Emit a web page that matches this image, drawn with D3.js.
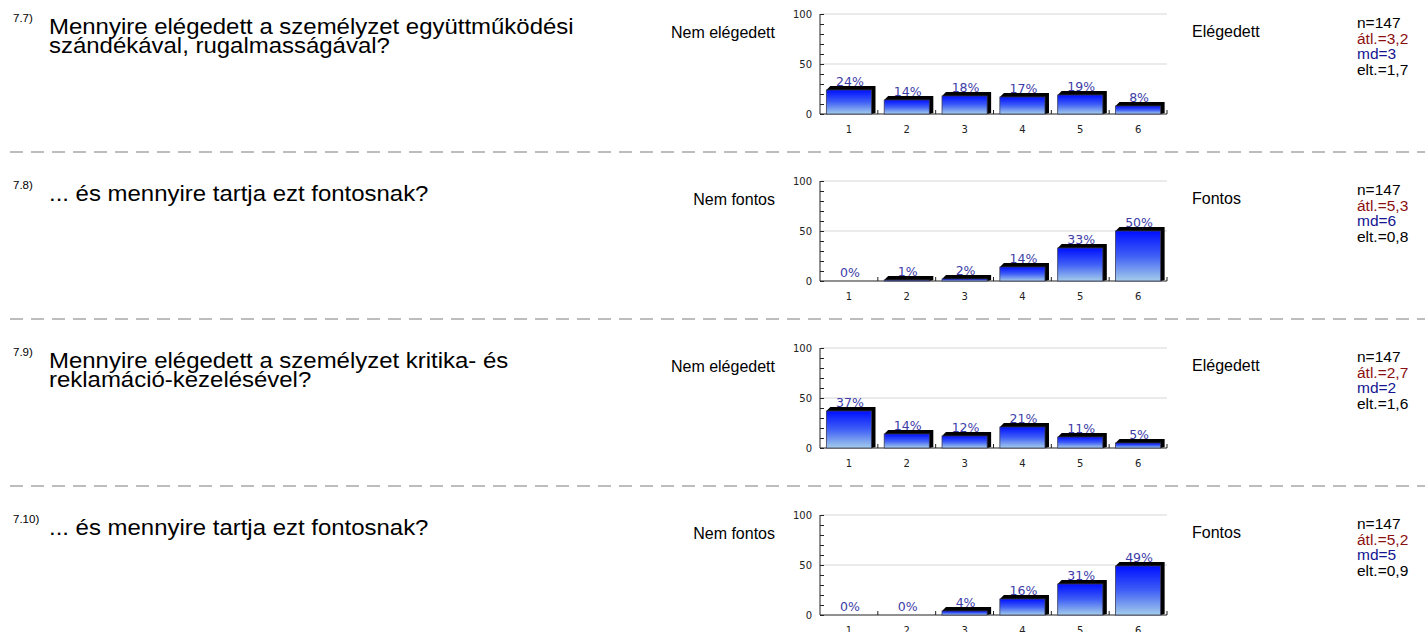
<!DOCTYPE html>
<html><head><meta charset="utf-8">
<script src="https://cdn.jsdelivr.net/npm/d3@7/dist/d3.min.js"></script>
<style>
html,body{margin:0;padding:0;background:#fff;}
svg{display:block;}
</style></head>
<body>
<script>
const categories = ["1","2","3","4","5","6"];
const numbers = ["7.7)","7.8)","7.9)","7.10)"];
const titles = [
  ["Mennyire elégedett a személyzet együttműködési","szándékával, rugalmasságával?"],
  ["... és mennyire tartja ezt fontosnak?"],
  ["Mennyire elégedett a személyzet kritika- és","reklamáció-kezelésével?"],
  ["... és mennyire tartja ezt fontosnak?"]
];
const leftLabels = ["Nem elégedett","Nem fontos","Nem elégedett","Nem fontos"];
const rightLabels = ["Elégedett","Fontos","Elégedett","Fontos"];
const values77 = [24,14,18,17,19,8];
const values78 = [0,1,2,14,33,50];
const values79 = [37,14,12,21,11,5];
const values710 = [0,0,4,16,31,49];
const seriesValues = [values77, values78, values79, values710];
const statN = ["n=147","n=147","n=147","n=147"];
const statMean = ["átl.=3,2","átl.=5,3","átl.=2,7","átl.=5,2"];
const statMd = ["md=3","md=6","md=2","md=5"];
const statSd = ["elt.=1,7","elt.=0,8","elt.=1,6","elt.=0,9"];
const yTicks = [0,50,100];

const W = 1425, H = 632;
const svg = d3.select("body").append("svg").attr("width", W).attr("height", H);
const defs = svg.append("defs");
const grad = defs.append("linearGradient").attr("id","barGrad").attr("x1",0).attr("y1",0).attr("x2",0).attr("y2",1);
grad.append("stop").attr("offset","0%").attr("stop-color","#0010ff");
grad.append("stop").attr("offset","50%").attr("stop-color","#3f5ff6");
grad.append("stop").attr("offset","100%").attr("stop-color","#a4cdea");

const sansFont = "Arial, 'Liberation Sans', Helvetica, sans-serif";
const chartFont = "'DejaVu Sans', Verdana, sans-serif";
const blockH = 167, firstTop = 14;
const plotLeft = 820, plotRight = 1167, plotH = 100;
const depth = 4;

seriesValues.forEach((vals, i) => {
  const top = firstTop + blockH * i;
  const g = svg.append("g");
  const x = d3.scaleBand().domain(categories).range([plotLeft, plotRight]).paddingInner(0.22).paddingOuter(0.11);
  const y = d3.scaleLinear().domain([0,100]).range([top + plotH, top]);

  // question number and title
  g.append("text").attr("x", 13).attr("y", top + 8).attr("font-family", sansFont)
    .attr("font-size", 11.5).attr("fill", "#000").text(numbers[i]);
  titles[i].forEach((line, k) => {
    g.append("text").attr("transform", `translate(49,${top + 19.5 + k * 19}) scale(1.11,1)`)
      .attr("font-family", sansFont)
      .attr("font-size", 21.6).attr("fill", "#000").text(line);
  });

  // side labels
  g.append("text").attr("x", 775).attr("y", top + 23.5).attr("text-anchor","end").attr("font-family", sansFont)
    .attr("font-size", 16).attr("fill", "#000").text(leftLabels[i]);
  g.append("text").attr("x", 1192).attr("y", top + 23).attr("font-family", sansFont)
    .attr("font-size", 16).attr("fill", "#000").text(rightLabels[i]);

  // stats
  const stats = [[statN[i],"#000"],[statMean[i],"#8b1010"],[statMd[i],"#141490"],[statSd[i],"#000"]];
  stats.forEach((s, k) => {
    g.append("text").attr("x", 1357).attr("y", top + 14 + k * 15.7).attr("font-family", sansFont)
      .attr("font-size", 15.5).attr("fill", s[1]).text(s[0]);
  });

  // gridlines
  g.selectAll(".grid").data([50,100]).enter().append("line")
    .attr("x1", plotLeft + 1).attr("x2", plotRight).attr("y1", d => y(d)).attr("y2", d => y(d))
    .attr("stroke", "#e4e4e4").attr("stroke-width", 1.5);

  // y axis with minor ticks
  const yAxis = d3.axisRight(y).tickValues(d3.range(0,101,10)).tickSize(4).tickFormat("");
  const ya = g.append("g").attr("transform", `translate(${plotLeft},0)`).call(yAxis);
  ya.select(".domain").attr("stroke","#222").attr("d", `M0,${y(100)}V${y(0)}`);
  ya.selectAll(".tick line").attr("stroke","#222");
  g.selectAll(".ylab").data(yTicks).enter().append("text")
    .attr("x", plotLeft - 8).attr("y", d => y(d) + 3.5).attr("text-anchor","end")
    .attr("font-family", chartFont).attr("font-size", 10).attr("fill","#222").text(d => d);

  // x axis
  const step = x.step();
  const bounds = d3.range(0, categories.length + 1).map(k => plotLeft + k * step);
  g.append("line").attr("x1", plotLeft).attr("x2", plotRight).attr("y1", y(0)).attr("y2", y(0))
    .attr("stroke", "#222").attr("stroke-width", 1.2);
  g.selectAll(".xt").data(bounds.slice(1)).enter().append("line")
    .attr("x1", d => d).attr("x2", d => d).attr("y1", y(0)).attr("y2", y(0) - 4)
    .attr("stroke", "#222");
  g.selectAll(".xlab").data(categories).enter().append("text")
    .attr("x", d => x(d) + x.bandwidth() / 2).attr("y", y(0) + 19).attr("text-anchor","middle")
    .attr("font-family", chartFont).attr("font-size", 10).attr("fill","#222").text(d => d);

  // bars
  const data = categories.map((c, k) => ({c, v: vals[k]}));
  const bars = g.selectAll(".bar").data(data.filter(d => d.v > 0)).enter().append("g");
  bars.append("path").attr("fill", "#000").attr("d", d => {
    const x0 = x(d.c), x1 = x(d.c) + x.bandwidth(), yt = y(d.v), yb = y(0);
    return `M${x0},${yt}L${x0 + depth},${yt - depth}L${x1 + depth},${yt - depth}L${x1 + depth},${yb - 1}L${x1},${yb}Z`;
  });
  bars.append("rect")
    .attr("x", d => x(d.c)).attr("y", d => y(d.v))
    .attr("width", x.bandwidth()).attr("height", d => y(0) - y(d.v))
    .attr("fill", "url(#barGrad)").attr("stroke", "#3a3a5a").attr("stroke-width", 0.8);

  g.selectAll(".pct").data(data).enter().append("text")
    .attr("x", d => x(d.c) + x.bandwidth() / 2 + 1).attr("y", d => y(d.v) - 4.5)
    .attr("text-anchor","middle").attr("font-family", chartFont).attr("font-size", 12.5)
    .attr("fill", "#3d3da8").text(d => d.v + "%");

  // dashed separator
  if (i < seriesValues.length - 1) {
    g.append("line").attr("x1", 10).attr("x2", W).attr("y1", top + 138).attr("y2", top + 138)
      .attr("stroke", "#bdbdbd").attr("stroke-width", 2).attr("stroke-dasharray", "13,8");
  }
});
</script>
</body></html>
